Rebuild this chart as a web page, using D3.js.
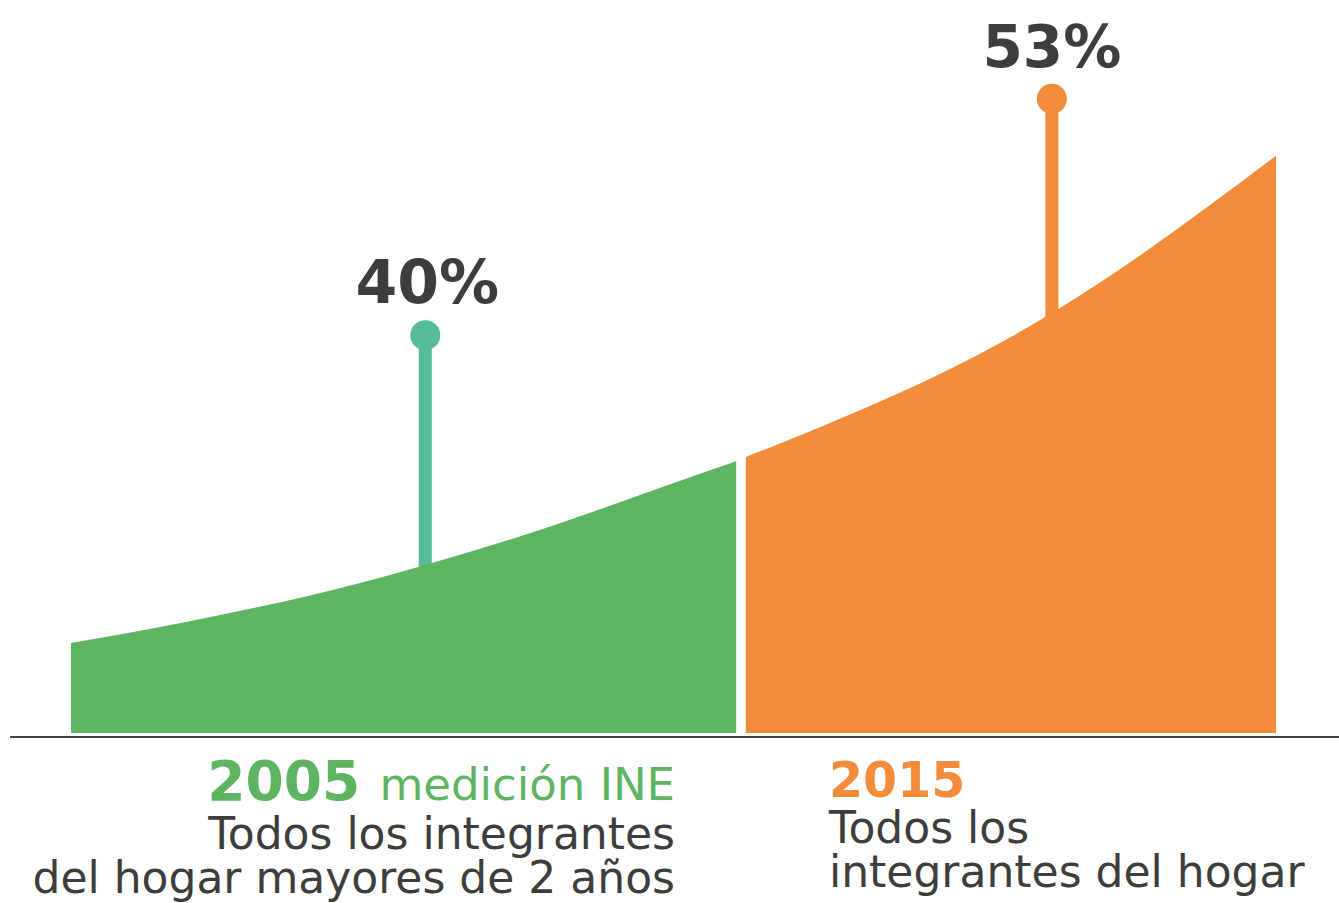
<!DOCTYPE html>
<html><head><meta charset="utf-8">
<script src="https://cdn.jsdelivr.net/npm/d3@7"></script>
<style>html,body{margin:0;padding:0;background:#fff;}svg{display:block;}</style>
</head><body>
<script>
// Curve position (0–100 along the axis) and height (arbitrary units)
const greenX = [0, 9, 24, 29.4, 37.3, 52.2, 55.2];
const greenY = [15, 18.3, 25, 28, 32.8, 43.2, 45.3];
const orangeX = [56, 62.2, 77.1, 81.4, 100];
const orangeY = [46, 51, 65, 70, 96.2];
const pinLabels = ["40%", "53%"];
const pinX = [29.4, 81.4];
const pinTop = [66.3, 105.7];
const yearLabels = ["2005", "2015"];

const W = 1339, H = 903;
const svg = d3.select("body").append("svg").attr("width", W).attr("height", H);
const x = d3.scaleLinear().domain([0, 100]).range([71, 1276]);
const y = d3.scaleLinear().domain([0, 100]).range([733, 133]);

const dark = "#3d3d3b", green = "#5db562", orange = "#f28c3a", teal = "#55bb9a";
const pinColors = [teal, orange];
const labelShift = [2, 0];
const labelSize = [60, 58];

// pins (drawn below the areas)
pinX.forEach((px, i) => {
  svg.append("line").attr("x1", x(px)).attr("x2", x(px))
    .attr("y1", y(pinTop[i])).attr("y2", y(0))
    .attr("stroke", pinColors[i]).attr("stroke-width", 13);
  svg.append("circle").attr("cx", x(px)).attr("cy", y(pinTop[i])).attr("r", 15)
    .attr("fill", pinColors[i]);
  svg.append("text").attr("x", x(px) + labelShift[i]).attr("y", y(pinTop[i]) - 32)
    .attr("text-anchor", "middle").attr("font-family", "DejaVu Sans")
    .attr("font-weight", "bold").attr("font-size", labelSize[i]).attr("fill", dark)
    .text(pinLabels[i]);
});

const area = d3.area().x(d => x(d[0])).y0(y(0)).y1(d => y(d[1])).curve(d3.curveMonotoneX);
svg.append("path").attr("d", area(greenX.map((v, i) => [v, greenY[i]]))).attr("fill", green);
svg.append("path").attr("d", area(orangeX.map((v, i) => [v, orangeY[i]]))).attr("fill", orange);

// baseline axis
svg.append("line").attr("x1", 10).attr("x2", W).attr("y1", 737).attr("y2", 737)
  .attr("stroke", "#444").attr("stroke-width", 2);

const ff = "DejaVu Sans";
// left labels
const t1 = svg.append("text").attr("x", 675).attr("y", 800).attr("text-anchor", "end")
  .attr("font-family", ff).attr("fill", green);
t1.append("tspan").attr("font-weight", "bold").attr("font-size", 55).text(yearLabels[0] + " ");
t1.append("tspan").attr("font-size", 45).text("medición INE");
svg.append("text").attr("x", 675).attr("y", 849).attr("text-anchor", "end")
  .attr("font-family", ff).attr("font-size", 44).attr("fill", dark).text("Todos los integrantes");
svg.append("text").attr("x", 675).attr("y", 893).attr("text-anchor", "end")
  .attr("font-family", ff).attr("font-size", 44).attr("fill", dark).text("del hogar mayores de 2 años");

// right labels
svg.append("text").attr("x", 829).attr("y", 797).attr("font-family", ff)
  .attr("font-weight", "bold").attr("font-size", 49).attr("fill", orange).text(yearLabels[1]);
svg.append("text").attr("x", 829).attr("y", 843).attr("font-family", ff)
  .attr("font-size", 44).attr("fill", dark).text("Todos los");
svg.append("text").attr("x", 829).attr("y", 887).attr("font-family", ff)
  .attr("font-size", 44).attr("fill", dark).text("integrantes del hogar");
</script>
</body></html>
